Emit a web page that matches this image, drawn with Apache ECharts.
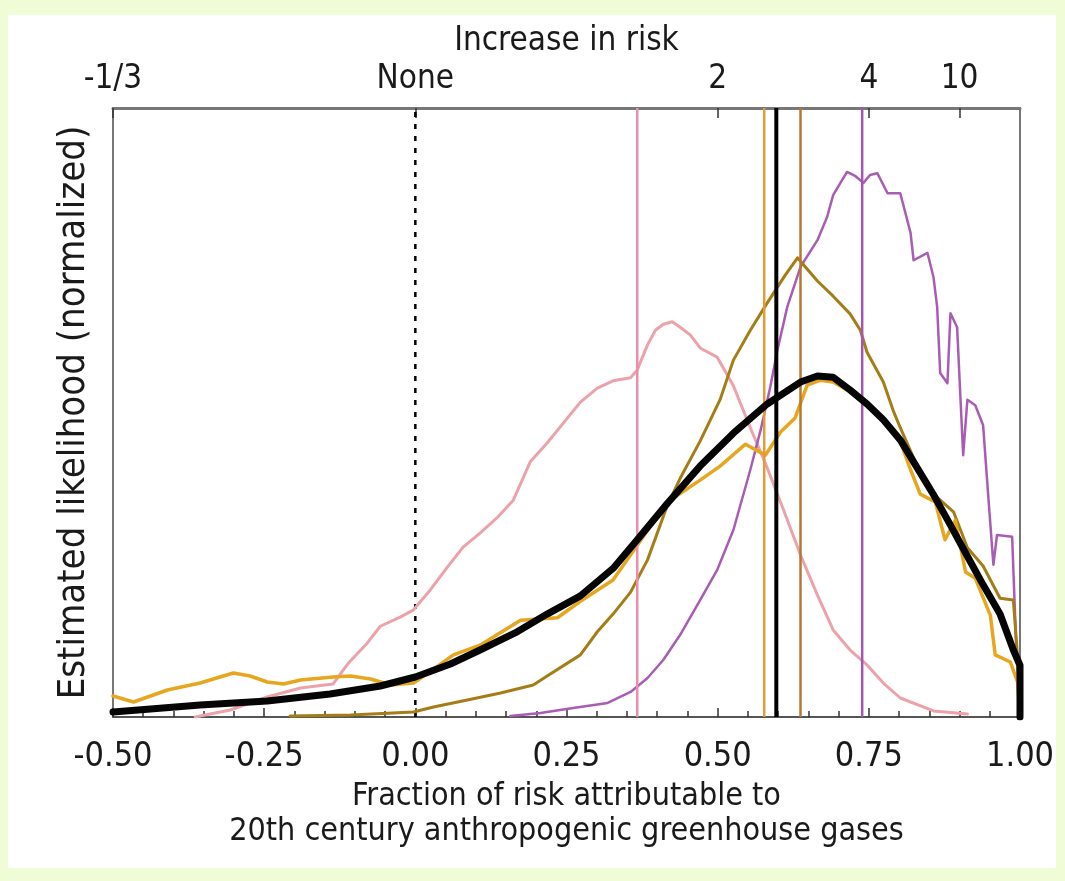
<!DOCTYPE html>
<html>
<head>
<meta charset="utf-8">
<script src="https://cdn.jsdelivr.net/npm/echarts@6/dist/echarts.min.js"></script>
<style>
  html, body { margin: 0; padding: 0; width: 1065px; height: 881px; background: #effcd6; overflow: hidden; }
  #panel { position: absolute; left: 8px; top: 15px; width: 1048px; height: 853px; background: #ffffff; }
  #chart { position: absolute; left: 0; top: 0; width: 1065px; height: 881px; }
</style>
</head>
<body>
<div id="panel"></div>
<div id="chart"></div>
<script>
// ---- data (x = fraction of attributable risk, y = normalized likelihood) ----
const bottomTickLabels = ['-0.50', '-0.25', '0.00', '0.25', '0.50', '0.75', '1.00'];
const topTickValues = [-0.5, 0, 0.5, 0.75, 0.9];
const topTickLabels = ['-1/3', 'None', '2', '4', '10'];

const blackCurve = [
  [-0.500, 0.82], [-0.438, 1.31], [-0.356, 1.97], [-0.245, 2.63], [-0.141, 3.78], [-0.058, 5.09],
  [0.000, 6.57], [0.058, 8.70], [0.107, 11.0], [0.165, 13.8], [0.218, 16.9], [0.273, 19.9],
  [0.327, 24.4], [0.367, 29.1], [0.417, 35.1], [0.471, 41.2], [0.526, 46.6], [0.582, 51.4],
  [0.637, 55.0], [0.665, 56.0], [0.691, 55.8], [0.719, 53.7], [0.747, 51.4], [0.774, 48.8],
  [0.802, 45.5], [0.830, 40.9], [0.857, 36.5], [0.885, 31.5], [0.913, 26.4], [0.939, 21.7],
  [0.967, 16.9], [0.989, 11.0], [1.000, 8.5], [1.000, 0]
];
const yellowCurve = [
  [-0.500, 3.45], [-0.466, 2.46], [-0.410, 4.43], [-0.356, 5.58], [-0.301, 7.22], [-0.273, 6.73],
  [-0.245, 5.75], [-0.218, 5.42], [-0.190, 6.08], [-0.136, 6.57], [-0.107, 6.73], [-0.074, 6.24],
  [-0.041, 5.25], [-0.003, 5.58], [0.033, 8.05], [0.063, 10.2], [0.107, 11.8], [0.174, 15.9],
  [0.235, 16.3], [0.273, 19.0], [0.327, 22.5], [0.367, 28.2], [0.417, 35.3], [0.471, 38.9],
  [0.504, 41.2], [0.546, 44.8], [0.579, 43.0], [0.604, 46.8], [0.628, 49.1], [0.648, 54.5],
  [0.670, 55.3], [0.691, 55.0], [0.719, 53.4], [0.752, 50.7], [0.777, 48.1], [0.802, 45.2],
  [0.819, 40.6], [0.835, 36.6], [0.860, 35.3], [0.876, 29.1], [0.893, 32.3], [0.910, 23.8],
  [0.926, 22.8], [0.951, 16.7], [0.959, 10.2], [0.984, 9.03], [0.996, 5.75], [1.000, 0]
];
const brownCurve = [
  [-0.207, 0.16], [-0.107, 0.33], [-0.003, 0.82], [0.030, 1.64], [0.086, 2.79], [0.141, 3.94],
  [0.195, 5.25], [0.218, 6.73], [0.273, 10.2], [0.301, 14.0], [0.327, 16.9], [0.356, 20.5],
  [0.384, 25.8], [0.417, 34.8], [0.438, 39.2], [0.471, 45.3], [0.504, 52.1], [0.526, 58.6],
  [0.554, 63.5], [0.582, 68.0], [0.612, 72.6], [0.632, 75.4], [0.665, 71.6], [0.691, 69.1],
  [0.719, 66.2], [0.736, 63.5], [0.747, 59.9], [0.774, 55.0], [0.790, 50.4], [0.802, 47.5],
  [0.830, 41.2], [0.857, 36.6], [0.890, 33.7], [0.913, 27.8], [0.939, 24.8], [0.967, 19.5],
  [0.989, 19.2], [0.996, 9.85], [1.000, 0]
];
const pinkCurve = [
  [-0.364, 0], [-0.306, 1.15], [-0.245, 3.28], [-0.190, 4.76], [-0.136, 5.42], [-0.112, 8.70],
  [-0.079, 12.2], [-0.058, 14.9], [-0.025, 16.4], [-0.003, 17.6], [0.025, 20.9], [0.053, 24.6],
  [0.079, 27.9], [0.107, 30.2], [0.136, 32.8], [0.162, 35.6], [0.190, 41.9], [0.218, 45.0],
  [0.245, 48.3], [0.273, 51.7], [0.301, 54.0], [0.327, 55.2], [0.356, 55.7], [0.367, 57.0],
  [0.384, 61.1], [0.397, 63.5], [0.410, 64.5], [0.425, 64.9], [0.438, 64.0], [0.455, 62.7],
  [0.471, 60.6], [0.499, 59.1], [0.526, 54.4], [0.554, 47.5], [0.582, 40.9], [0.609, 34.0],
  [0.637, 26.6], [0.665, 20.0], [0.691, 14.3], [0.719, 11.0], [0.747, 8.54], [0.774, 5.58],
  [0.802, 3.12], [0.857, 0.99], [0.913, 0.49]
];
const purpleCurve = [
  [0.157, 0.16], [0.207, 0.66], [0.261, 1.48], [0.318, 2.30], [0.356, 4.11], [0.384, 6.40],
  [0.410, 9.36], [0.438, 13.5], [0.471, 19.2], [0.499, 24.1], [0.526, 30.7], [0.554, 40.6],
  [0.571, 47.1], [0.587, 54.2], [0.599, 60.3], [0.615, 67.3], [0.637, 73.9], [0.665, 78.3],
  [0.681, 82.1], [0.691, 85.7], [0.703, 87.7], [0.714, 89.5], [0.728, 88.8], [0.741, 87.7],
  [0.752, 89.0], [0.764, 89.3], [0.781, 86.0], [0.802, 86.0], [0.819, 79.5], [0.824, 75.0],
  [0.847, 76.2], [0.857, 72.2], [0.863, 67.3], [0.868, 56.5], [0.880, 54.8], [0.885, 66.3],
  [0.896, 64.0], [0.906, 43.0], [0.913, 52.1], [0.926, 51.2], [0.939, 47.9], [0.948, 35.6],
  [0.956, 25.0], [0.962, 29.9], [0.987, 29.6], [0.994, 11.0], [1.000, 0]
];
// best-estimate vertical markers (x positions)
const markerPink = 0.367;
const markerOrange = 0.577;
const markerBlack = 0.597;
const markerBrown = 0.637;
const markerPurple = 0.739;
const noneLine = 0;

const FONT = "'Liberation Sans Narrow', 'DejaVu Sans Condensed', 'Arial Narrow', sans-serif";
const vline = (x) => [[x, 0], [x, 100]];

const chart = echarts.init(document.getElementById('chart'), null, { renderer: 'canvas' });

const lineSeries = (name, data, color, width, z) => ({
  name, type: 'line', data, showSymbol: false, symbol: 'none', z,
  lineStyle: { color, width, join: 'round', cap: 'round' }, animation: false, silent: true
});
const markSeries = (name, x, color, width, z, dashed) => ({
  name, type: 'line', data: vline(x), showSymbol: false, symbol: 'none', z,
  lineStyle: { color, width, type: dashed ? [5, 7] : 'solid' }, animation: false, silent: true
});

chart.setOption({
  backgroundColor: 'transparent',
  animation: false,
  grid: { left: 113, right: 45, top: 108, bottom: 164, containLabel: false },
  xAxis: [
    {
      type: 'value', position: 'bottom', min: -0.5, max: 1, interval: 0.25,
      axisLine: { show: true, onZero: false, lineStyle: { color: '#555', width: 2 } },
      axisTick: { show: true, inside: true, length: 9, lineStyle: { color: '#333', width: 1.5 } },
      minorTick: { show: true, splitNumber: 5, length: 6, lineStyle: { color: '#333', width: 1.5 } },
      splitLine: { show: false }, minorSplitLine: { show: false },
      axisLabel: {
        margin: 23, fontSize: 34, fontFamily: FONT, color: '#1a1a1a',
        formatter: (v) => bottomTickLabels[Math.round((v + 0.5) / 0.25)]
      },
      name: 'Fraction of risk attributable to\n20th century anthropogenic greenhouse gases',
      nameLocation: 'middle', nameGap: 62,
      nameTextStyle: { fontSize: 32, fontFamily: FONT, color: '#1a1a1a', lineHeight: 35 }
    },
    {
      type: 'value', position: 'top', min: -0.5, max: 1,
      axisLine: { show: true, onZero: false, lineStyle: { color: '#777', width: 3 } },
      axisTick: { show: true, inside: true, length: 10, customValues: topTickValues, lineStyle: { color: '#333', width: 1.5 } },
      splitLine: { show: false },
      axisLabel: {
        margin: 12, fontSize: 33, fontFamily: FONT, color: '#1a1a1a', customValues: topTickValues,
        formatter: (v) => { const i = topTickValues.findIndex(t => Math.abs(t - v) < 1e-6); return i >= 0 ? topTickLabels[i] : ''; }
      },
      name: 'Increase in risk', nameLocation: 'middle', nameGap: 48,
      nameTextStyle: { fontSize: 33, fontFamily: FONT, color: '#1a1a1a' }
    }
  ],
  yAxis: [
    {
      type: 'value', position: 'left', min: 0, max: 100,
      axisLine: { show: true, onZero: false, lineStyle: { color: '#777', width: 2 } },
      axisTick: { show: false }, axisLabel: { show: false }, splitLine: { show: false },
      name: 'Estimated likelihood (normalized)', nameLocation: 'middle', nameGap: 20, nameRotate: 90,
      nameTextStyle: { fontSize: 38, fontFamily: FONT, color: '#1a1a1a' }
    },
    {
      type: 'value', position: 'right', min: 0, max: 100,
      axisLine: { show: true, onZero: false, lineStyle: { color: '#777', width: 2 } },
      axisTick: { show: false }, axisLabel: { show: false }, splitLine: { show: false }
    }
  ],
  series: [
    markSeries('none', noneLine, '#000000', 2.5, 3, true),
    lineSeries('pink', pinkCurve, '#eba2a8', 3, 4),
    lineSeries('purple', purpleCurve, '#a85cb4', 2.5, 5),
    lineSeries('brown', brownCurve, '#a57d16', 3, 6),
    lineSeries('yellow', yellowCurve, '#e6a61e', 3.5, 7),
    markSeries('mPink', markerPink, '#e98fac', 2.5, 8),
    markSeries('mOrange', markerOrange, '#e29a3a', 2.5, 8),
    markSeries('mBrown', markerBrown, '#b7782e', 2.5, 8),
    markSeries('mPurple', markerPurple, '#a456b4', 2.5, 8),
    lineSeries('black', blackCurve, '#050505', 7, 9),
    markSeries('mBlack', markerBlack, '#000000', 4, 10)
  ]
});
</script>
</body>
</html>
